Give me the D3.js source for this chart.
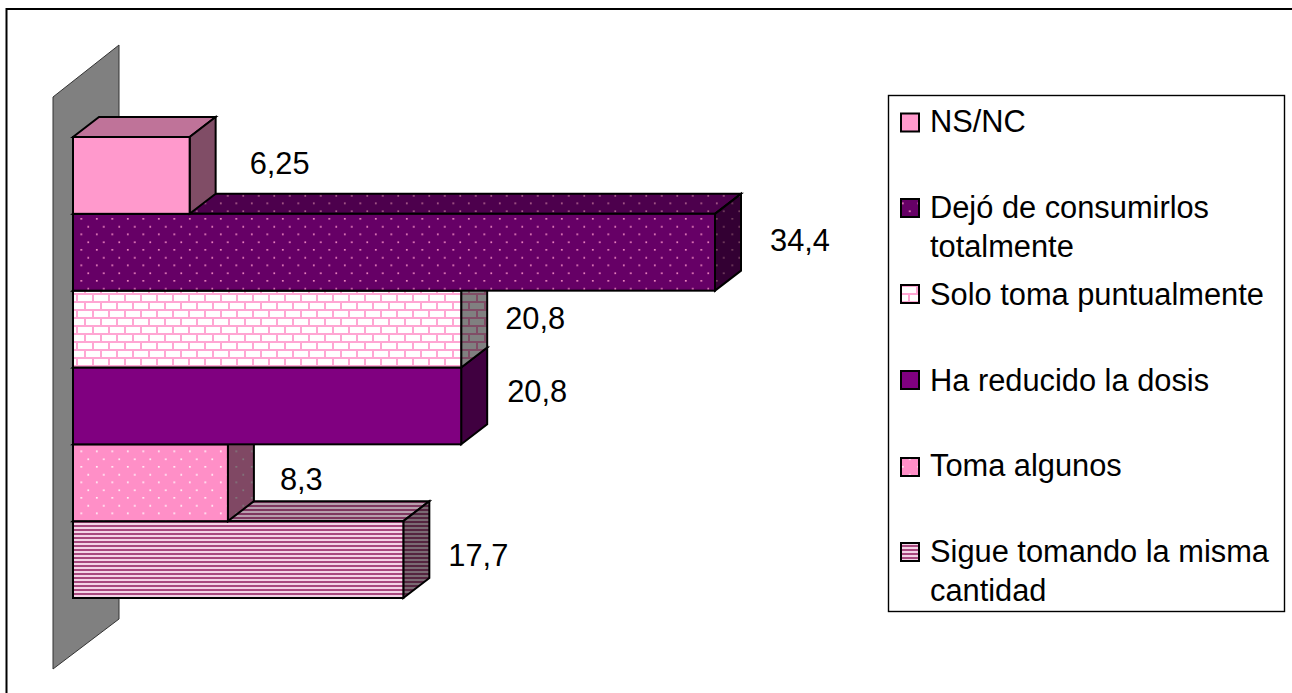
<!DOCTYPE html>
<html><head><meta charset="utf-8">
<script src="https://cdn.jsdelivr.net/npm/d3@7"></script>
<style>html,body{margin:0;padding:0;background:#fff}svg{display:block}text{font-family:"Liberation Sans",Arial,sans-serif;fill:#000}</style>
</head><body><div id="c"></div>
<script>
const categories = ["Sigue tomando la misma cantidad","Toma algunos","Ha reducido la dosis","Solo toma puntualmente","Dejó de consumirlos totalmente","NS/NC"];
const values = [17.7,8.3,20.8,20.8,34.4,6.25];
const valueLabels = ["17,7","8,3","20,8","20,8","34,4","6,25"];
const patterns = ["lines","dotsLight","solidPurple","bricks","dotsDark","solidPink"];
const legendOrder = ["NS/NC","Dejó de consumirlos totalmente","Solo toma puntualmente","Ha reducido la dosis","Toma algunos","Sigue tomando la misma cantidad"];

const W=1292,H=693, DX=26, DY=-20, FS=30.8;
const svg=d3.select("#c").append("svg").attr("width",W).attr("height",H);
const defs=svg.append("defs");
const x=d3.scaleLinear().domain([0,34.4]).range([73,715]);
const y=d3.scaleBand().domain(categories).range([598,137]).padding(0);

const shades={front:1,top:.75,side:.5};
function sh(c,k){const r=d3.rgb(c);return d3.rgb(r.r*k,r.g*k,r.b*k).formatHex();}
function mk(name,shade,k){
  const id=name+"-"+shade;
  if(name==="solidPink"||name==="solidPurple"){
    const base=name==="solidPink"?"#ff99cc":"#800080";
    defs.append("pattern").attr("id",id).attr("patternUnits","userSpaceOnUse").attr("width",4).attr("height",4)
      .append("rect").attr("width",4).attr("height",4).attr("fill",sh(base,k));
  } else if(name==="dotsDark"||name==="dotsLight"){
    const base=name==="dotsDark"?"#660066":"#ff8fc7", dot=name==="dotsDark"?"#ff99cc":"#ffffff";
    const p=defs.append("pattern").attr("id",id).attr("patternUnits","userSpaceOnUse").attr("width",15.5).attr("height",15.5);
    p.append("rect").attr("width",15.5).attr("height",15.5).attr("fill",sh(base,k));
    [[10,9],[3,1]].forEach(d=>p.append("rect").attr("x",d[0]).attr("y",d[1]).attr("width",1.6).attr("height",1.6).attr("fill",sh(dot,k)));
  } else if(name==="lines"){
    const p=defs.append("pattern").attr("id",id).attr("patternUnits","userSpaceOnUse").attr("width",4).attr("height",4);
    p.append("rect").attr("width",4).attr("height",4).attr("fill",sh("#f4d3e6",k));
    p.append("rect").attr("y",1).attr("width",4).attr("height",2).attr("fill",sh("#a8487e",k));
  } else if(name==="bricks"){
    const p=defs.append("pattern").attr("id",id).attr("patternUnits","userSpaceOnUse").attr("width",16).attr("height",16);
    const bg=k===1?"#ffffff":sh("#ffffff",k), ln=k===1?"#ffa6d3":sh("#ff99cc",k);
    p.append("rect").attr("width",16).attr("height",16).attr("fill",bg);
    [[0,5,16,2],[0,13,16,2],[12,5,2,8],[4,13,2,3],[4,0,2,5]].forEach(d=>p.append("rect").attr("x",d[0]).attr("y",d[1]).attr("width",d[2]).attr("height",d[3]).attr("fill",ln));
  }
  return id;
}
Array.from(new Set(patterns)).forEach(n=>Object.entries(shades).forEach(([s,k])=>mk(n,s,k)));

// chart frame: top and left edges only are visible in the picture
svg.append("path").attr("d","M6.5,693V9H1292").attr("fill","none").attr("stroke","#000").attr("stroke-width",2);

// back wall
svg.append("polygon").attr("points",[[53,97],[119,45],[119,619],[53,669]].join(" ")).attr("fill","#808080").attr("stroke","#333").attr("stroke-width",1);

const rows=categories.map((c,i)=>({c,v:values[i],p:patterns[i],l:valueLabels[i]}));
const g=svg.append("g").attr("stroke","#000").attr("stroke-width",2).attr("stroke-linejoin","miter");
rows.forEach(d=>{
  const x0=x(0),x1=x(d.v),y0=y(d.c),y1=y0+y.bandwidth();
  const bar=g.append("g");
  bar.append("polygon").attr("points",[[x0,y0],[x0+DX,y0+DY],[x1+DX,y0+DY],[x1,y0]].join(" ")).attr("fill",`url(#${d.p}-top)`);
  bar.append("polygon").attr("points",[[x1,y0],[x1+DX,y0+DY],[x1+DX,y1+DY],[x1,y1]].join(" ")).attr("fill",`url(#${d.p}-side)`);
  bar.append("rect").attr("x",x0).attr("y",y0).attr("width",x1-x0).attr("height",y1-y0).attr("fill",`url(#${d.p}-front)`);
});

// value labels
const labelDx=[45,52,46,44,55,60], labelDy=[-5,-4,-15,-11,-12,-13];
svg.append("g").selectAll("text").data(rows).join("text")
  .attr("x",(d,i)=>x(d.v)+labelDx[i]).attr("y",(d,i)=>y(d.c)+y.bandwidth()/2+labelDy[i]).attr("dy","0.36em")
  .attr("font-size",FS).text(d=>d.l);

// legend
svg.append("rect").attr("x",888.5).attr("y",95.5).attr("width",396).attr("height",516).attr("fill","#fff").attr("stroke","#000").attr("stroke-width",1.4);
const legendTextY=[120.5,207,294,379.5,465,551];
const legendSwatchY=[122.5,208,294,380,467,552];
const wrap={"Dejó de consumirlos totalmente":["Dejó de consumirlos","totalmente"],"Sigue tomando la misma cantidad":["Sigue tomando la misma","cantidad"]};
const lg=svg.append("g");
legendOrder.forEach((name,i)=>{
  const p=patterns[categories.indexOf(name)];
  lg.append("rect").attr("x",901).attr("y",legendSwatchY[i]-9).attr("width",18).attr("height",18).attr("fill",`url(#${p}-front)`).attr("stroke","#000").attr("stroke-width",2);
  (wrap[name]||[name]).forEach((t,j)=>lg.append("text").attr("x",930).attr("y",legendTextY[i]+j*38.5).attr("dy","0.36em").attr("font-size",FS).text(t));
});
</script></body></html>
